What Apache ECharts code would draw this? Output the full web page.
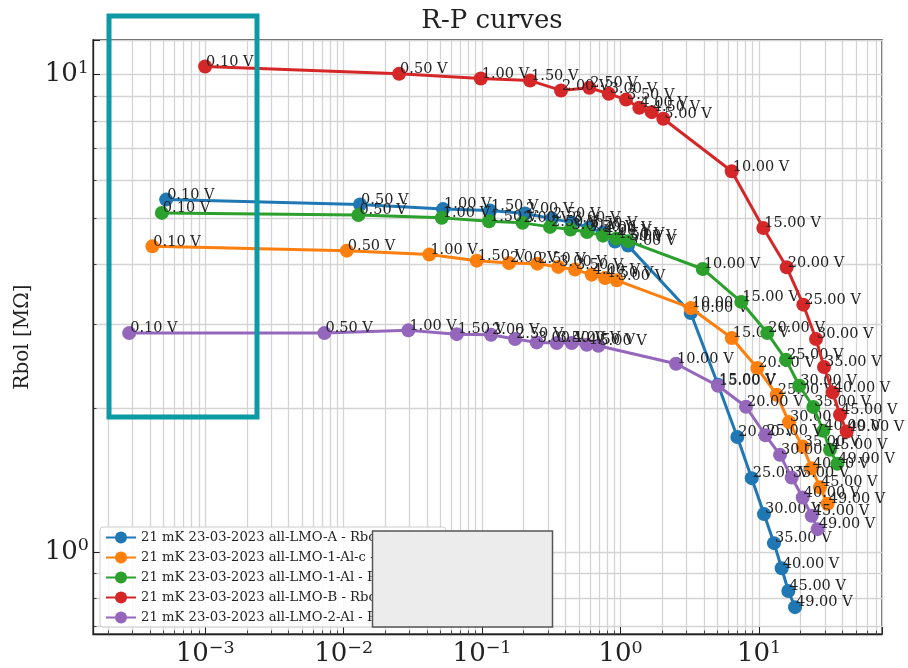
<!DOCTYPE html>
<html><head><meta charset="utf-8">
<script src="https://cdn.jsdelivr.net/npm/echarts@6/dist/echarts.min.js"></script>
<style>html,body{margin:0;padding:0;background:#fff}#c{width:908px;height:668px}</style>
</head><body><div id="c"></div>
<script>
// Bias voltages labelling each point
const volts = [0.1,0.5,1,1.5,2,2.5,3,3.5,4,4.5,5,10,15,20,25,30,35,40,45,49];

const names = [
  '21 mK 23-03-2023 all-LMO-A - Rbol vs P',
  '21 mK 23-03-2023 all-LMO-1-Al-c - Rbol vs P',
  '21 mK 23-03-2023 all-LMO-1-Al - Rbol vs P',
  '21 mK 23-03-2023 all-LMO-B - Rbol vs P',
  '21 mK 23-03-2023 all-LMO-2-Al - Rbol vs P'
];

// all-LMO-A
const pA = [5.23e-4, 0.01316, 0.0523, 0.1142, 0.2044, 0.3202, 0.4466, 0.5924, 0.7473, 0.9127, 1.133, 3.213, 5.058, 6.971, 8.857, 10.87, 12.83, 14.58, 16.28, 18.20];
const rA = [5.47, 5.34, 5.224, 5.187, 5.113, 4.99, 4.894, 4.778, 4.665, 4.467, 4.381, 3.166, 2.239, 1.740, 1.427, 1.200, 1.043, 0.924, 0.828, 0.766];
// all-LMO-1-Al-c
const pC = [4.16e-4, 0.01055, 0.04164, 0.0916, 0.1566, 0.2507, 0.3556, 0.4692, 0.6195, 0.7728, 0.9388, 3.213, 6.353, 9.72, 13.42, 16.47, 20.68, 24.02, 27.57, 31.33];
const rC = [4.365, 4.276, 4.195, 4.074, 4.029, 4.016, 3.953, 3.902, 3.808, 3.748, 3.705, 3.243, 2.806, 2.427, 2.134, 1.870, 1.663, 1.497, 1.366, 1.261];
// all-LMO-1-Al
const pG = [4.87e-4, 0.01279, 0.05117, 0.1123, 0.1961, 0.3097, 0.4355, 0.5729, 0.7473, 0.9279, 1.133, 3.923, 7.45, 11.48, 15.66, 19.54, 24.67, 29.13, 32.55, 36.76];
const rG = [5.13, 5.076, 5.008, 4.927, 4.889, 4.795, 4.733, 4.676, 4.597, 4.531, 4.476, 3.914, 3.339, 2.873, 2.526, 2.228, 2.011, 1.793, 1.636, 1.529];
// all-LMO-B
const pB = [1.0e-3, 0.02517, 0.0979, 0.2221, 0.3719, 0.5953, 0.8218, 1.096, 1.367, 1.680, 2.037, 6.353, 10.74, 15.85, 20.89, 25.79, 29.47, 34.05, 38.45, 42.98];
const rB = [10.39, 10.03, 9.81, 9.71, 9.26, 9.38, 9.11, 8.86, 8.52, 8.34, 8.08, 6.27, 4.77, 3.945, 3.295, 2.792, 2.439, 2.158, 1.937, 1.787];
// all-LMO-2-Al
const pP = [2.83e-4, 7.27e-3, 0.02937, 0.06568, 0.1161, 0.1731, 0.2482, 0.3462, 0.4443, 0.5701, 0.6913, 2.516, 5.058, 8.057, 11.14, 14.18, 17.22, 20.68, 24.02, 26.53];
const rP = [2.873, 2.873, 2.911, 2.858, 2.851, 2.792, 2.747, 2.739, 2.739, 2.716, 2.703, 2.478, 2.228, 2.014, 1.755, 1.597, 1.431, 1.300, 1.190, 1.116];

const xRange = [1.55e-4, 77.3];
const yRange = [0.673, 11.81];

const SERIF = "'DejaVu Serif', serif";
const colors = ['#1f77b4', '#ff7f0e', '#2ca02c', '#d62728', '#9467bd'];
const pows = [pA, pC, pG, pB, pP];
const res = [rA, rC, rG, rB, rP];

function sup(v) {
  const e = Math.round(Math.log10(v));
  return '{b|10}{e|' + (e < 0 ? '\u2212' + (-e) : String(e)) + '}';
}
const rich = {
  b: {fontFamily: SERIF, fontSize: 26, color: '#222', lineHeight: 30},
  e: {fontFamily: SERIF, fontSize: 17.5, color: '#222', verticalAlign: 'top', lineHeight: 20}
};
const gridCol = '#d4d4d4';
function axisCommon() {
  return {
    type: 'log', logBase: 10,
    axisLine: {show: true, lineStyle: {color: '#222', width: 1.3}},
    axisTick: {show: true, inside: true, length: 7, lineStyle: {color: '#222', width: 1}},
    minorTick: {show: true, splitNumber: 9, length: 3.5, lineStyle: {color: '#222', width: 0.8}},
    splitLine: {show: true, lineStyle: {color: gridCol, width: 1.3}},
    minorSplitLine: {show: true, lineStyle: {color: gridCol, width: 1.3}},
    axisLabel: {formatter: sup, rich: rich, margin: 5, showMinLabel: false, showMaxLabel: false}
  };
}

const chart = echarts.init(document.getElementById('c'), null, {renderer: 'canvas'});
const xAxis = Object.assign(axisCommon(), {min: xRange[0], max: xRange[1]});
const yAxis = Object.assign(axisCommon(), {
  min: yRange[0], max: yRange[1],
  name: 'Rbol [M\u03A9]', nameLocation: 'middle', nameGap: 60, nameRotate: 90,
  nameTextStyle: {fontFamily: SERIF, fontSize: 20, color: '#222'}
});
yAxis.axisLabel = Object.assign({}, yAxis.axisLabel, {margin: 4});

const option = {
  animation: false,
  color: colors,
  title: {
    text: 'R-P curves', left: 487, textAlign: 'center', top: 3,
    textStyle: {fontFamily: SERIF, fontSize: 26, fontWeight: 'normal', color: '#222'}
  },
  grid: {left: 93, right: 26, top: 40, bottom: 34, show: true, borderColor: '#222', borderWidth: 1.3},
  xAxis: xAxis,
  yAxis: yAxis,
  legend: {
    orient: 'vertical', left: 100, top: 527,
    padding: [4, 5, 3, 5], itemGap: 7, itemWidth: 30, itemHeight: 15,
    backgroundColor: 'rgba(255,255,255,0.85)', borderColor: '#cccccc', borderWidth: 1, borderRadius: 3,
    textStyle: {fontFamily: SERIF, fontSize: 13.2, color: '#222', width: 370, overflow: 'truncate'},
    data: names
  },
  series: names.map((n, i) => ({
    name: n, type: 'line',
    data: pows[i].map((p, j) => [p, res[i][j]]),
    symbol: 'circle', symbolSize: 14, showAllSymbol: true,
    lineStyle: {width: 3, color: colors[i]},
    itemStyle: {color: colors[i]},
    label: {
      show: true, position: 'inside', align: 'left', verticalAlign: 'bottom', offset: [1, 3],
      formatter: (p) => volts[p.dataIndex].toFixed(2) + ' V',
      fontFamily: SERIF, fontSize: 14.5, color: '#222'
    },
    emphasis: {disabled: true},
    z: 2 + i
  })),
  graphic: [
    {type: 'rect', z: 100, shape: {x: 109, y: 16, width: 148, height: 401},
     style: {fill: 'none', stroke: '#0c9aa4', lineWidth: 5}},
    {type: 'rect', z: 100, shape: {x: 372.5, y: 531, width: 180, height: 96},
     style: {fill: '#ececec', stroke: '#555555', lineWidth: 1.5}}
  ]
};
chart.setOption(option);
</script>
</body></html>
